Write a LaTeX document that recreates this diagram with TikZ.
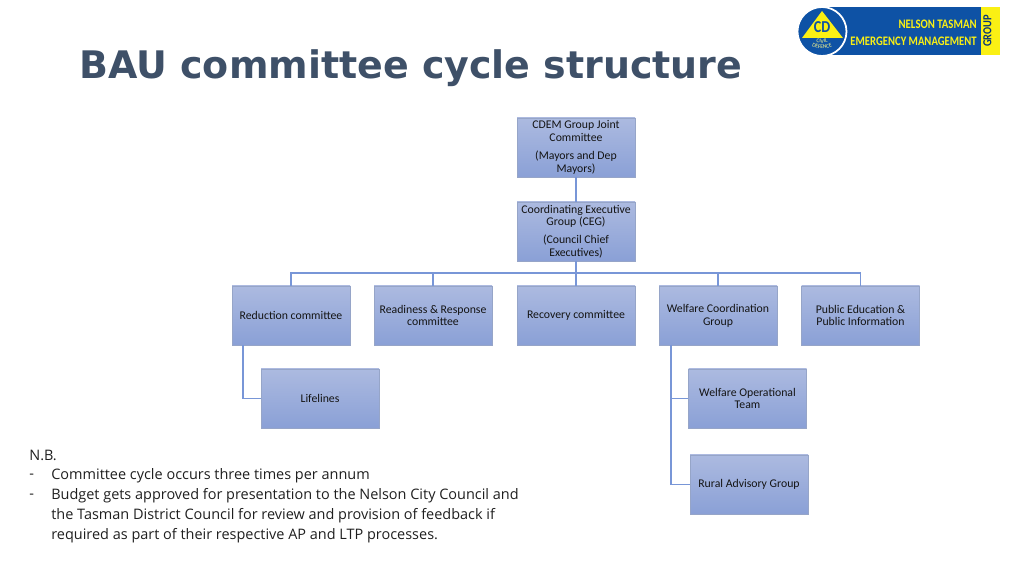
\documentclass[tikz,border=0pt]{standalone}
\usepackage{fontspec}
\setmainfont{Carlito}
\newfontfamily\titlefont{DejaVu Sans}
\newfontfamily\notefont{Open Sans}
\usetikzlibrary{arrows.meta}
\usetikzlibrary{decorations.text}
\usepackage{xcolor}
\definecolor{boxtop}{RGB}{172,186,224}
\definecolor{boxbottom}{RGB}{138,160,214}
\definecolor{boxedge}{RGB}{150,165,200}
\definecolor{linkblue}{RGB}{120,150,215}
\definecolor{titleblue}{RGB}{62,80,104}
\definecolor{logoblue}{RGB}{14,82,165}
\definecolor{logoyellow}{RGB}{250,240,20}

\begin{document}
\begin{tikzpicture}
        [x=0.02cm,y=-0.02cm,
        unit/.style = {draw=boxedge, text=black!92, line width=0.4pt, top color=boxtop, bottom color=boxbottom, minimum width=118*0.02cm, minimum height=59*0.02cm, inner sep=0pt, align=center, font=\fontsize{6.7}{7.3}\selectfont},
        lines/.style = {draw=linkblue, line width=0.85pt},
        logotext/.style = {anchor=east, inner sep=0pt, text=logoyellow, font=\bfseries\fontsize{7.4}{8}\selectfont},
        note/.style = {anchor=west, inner sep=0pt, text=black!88, font=\notefont\fontsize{8.23}{9}\selectfont}]
        \useasboundingbox (0,0) rectangle (1019,573);

        \node[anchor=base west, inner sep=0pt, text=titleblue, font=\titlefont\bfseries\fontsize{21.6}{25}\selectfont] (title) at (79,79) {BAU committee cycle structure};

        % logo
        \fill[logoblue] (822,7) rectangle (981,55);
        \fill[logoyellow] (981,7) rectangle (1000,55);
        \fill[logoblue, draw=white, line width=1pt] (822,31.5) circle (24.5);
        \fill[logoyellow] (822,11) -- (843,38) -- (802,38) -- cycle;
        \node[inner sep=0pt, text=logoblue, font=\bfseries\fontsize{9.5}{10}\selectfont] (cd) at (822,27) {\scalebox{.85}[1]{CD}};
        \path[decorate, decoration={text along path, text={|\fontsize{3.2}{3}\selectfont\color{logoyellow!50!white}|CIVIL}, text align=center}] (808,40) .. controls (815,44) and (829,44) .. (836,40);
        \path[decorate, decoration={text along path, text={|\fontsize{3.2}{3}\selectfont\color{logoyellow!50!white}|DEFENCE}, text align=center}] (805,42) .. controls (813,51) and (831,51) .. (839,42);
        \node[logotext] (nelson) at (977,24) {\scalebox{.83}[1]{NELSON TASMAN}};
        \node[logotext] (emergency) at (977,41) {\scalebox{.82}[1]{EMERGENCY MANAGEMENT}};
        \node[rotate=90, inner sep=0pt, text=logoblue!70!black, font=\bfseries\fontsize{7}{7}\selectfont] (group) at (987.5,31) {\scalebox{.85}[1]{GROUP}};

        % committees
        \node[unit] (joint) at (576,147.5) {CDEM Group Joint\\Committee\\[2.8pt](Mayors and Dep\\Mayors)};
        \node[unit] (ceg) at (576,231.5) {Coordinating Executive\\Group (CEG)\\[2.8pt](Council Chief\\Executives)};
        \node[unit] (reduction) at (291,315.5) {Reduction committee};
        \node[unit] (readiness) at (433,315.5) {Readiness \& Response\\committee};
        \node[unit] (recovery) at (576,315.5) {Recovery committee};
        \node[unit] (welfare) at (718,315.5) {Welfare Coordination\\Group};
        \node[unit] (education) at (860.5,315.5) {Public Education \&\\Public Information};
        \node[unit] (lifelines) at (320,398.5) {Lifelines};
        \node[unit] (operational) at (747.5,398.5) {Welfare Operational\\Team};
        \node[unit] (rural) at (749,484.5) {Rural Advisory Group};

        \coordinate (bus) at (576,273);
        \coordinate (redstem) at (243,345);
        \coordinate (welstem) at (671,345);

        \draw[lines] (joint) -- (ceg);
        \draw[lines] (ceg) -- (bus);
        \draw[lines] (bus) -| (reduction);
        \draw[lines] (bus) -| (readiness);
        \draw[lines] (bus) -- (recovery);
        \draw[lines] (bus) -| (welfare);
        \draw[lines] (bus) -| (education);
        \draw[lines] (redstem) |- (lifelines);
        \draw[lines] (welstem) |- (operational);
        \draw[lines] (welstem) |- (rural);

        % notes
        \node[note] (nb) at (29,455) {N.B.};
        \node[note] (dash1) at (29,476) {-};
        \node[note] (line1) at (51,476) {Committee cycle occurs three times per annum};
        \node[note] (dash2) at (29,496) {-};
        \node[note] (line2) at (51,496) {Budget gets approved for presentation to the Nelson City Council and};
        \node[note] (line3) at (51,516) {the Tasman District Council for review and provision of feedback if};
        \node[note] (line4) at (51,536) {required as part of their respective AP and LTP processes.};
\end{tikzpicture}
\end{document}
